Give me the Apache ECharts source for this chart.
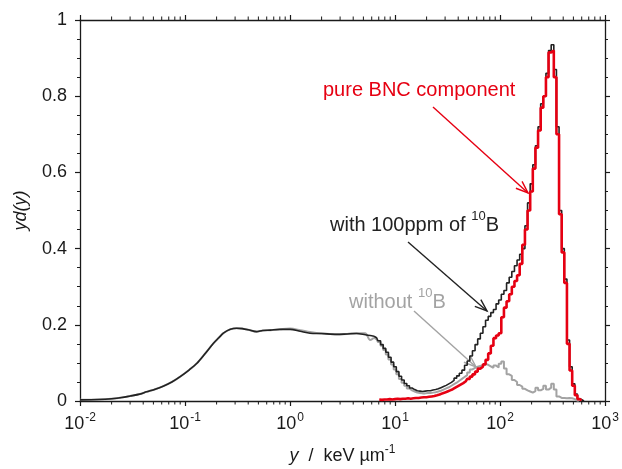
<!DOCTYPE html>
<html>
<head>
<meta charset="utf-8">
<script src="https://cdn.jsdelivr.net/npm/echarts@6/dist/echarts.min.js"></script>
<style>
html, body { margin: 0; padding: 0; background: #fff; }
#main { width: 622px; height: 469px; }
</style>
</head>
<body>
<div id="main"></div>
<script>
// smooth low-y part of the spectra (fine bins, no visible steps)
const lowX = [0.01, 0.015, 0.02, 0.025, 0.03, 0.037, 0.043, 0.052, 0.062, 0.075, 0.09, 0.11, 0.13, 0.155, 0.186, 0.21, 0.232, 0.27, 0.31, 0.35, 0.4, 0.48, 0.55, 0.65, 0.8, 1.0, 1.25, 1.55, 2.0, 2.78, 3.5, 4.3, 5.2, 5.8, 6.31];
const lowWith = [0.003, 0.004, 0.006, 0.009, 0.013, 0.018, 0.024, 0.031, 0.039, 0.05, 0.064, 0.082, 0.099, 0.124, 0.151, 0.166, 0.178, 0.188, 0.191, 0.19, 0.187, 0.182, 0.185, 0.186, 0.188, 0.188, 0.183, 0.178, 0.177, 0.175, 0.176, 0.177, 0.174, 0.172, 0.17];
const lowWithout = [0.003, 0.004, 0.006, 0.009, 0.013, 0.018, 0.024, 0.031, 0.039, 0.05, 0.064, 0.082, 0.099, 0.124, 0.151, 0.166, 0.178, 0.188, 0.191, 0.19, 0.187, 0.182, 0.185, 0.186, 0.188, 0.19, 0.186, 0.181, 0.177, 0.175, 0.176, 0.178, 0.178, 0.16, 0.166];

// histogram bins (keV/um) above ~6, 40 per decade
const binX = [6.31, 6.68, 7.08, 7.5, 7.94, 8.41, 8.91, 9.44, 10, 10.59, 11.22, 11.89, 12.59, 13.34, 14.13, 14.96, 15.85, 16.79, 17.78, 18.84,
	19.95, 21.13, 22.39, 23.71, 25.12, 26.61, 28.18, 29.85, 31.62, 33.5, 35.48, 37.58, 39.81, 42.17, 44.67, 47.32, 50.12, 53.09, 56.23, 59.57,
	63.1, 66.83, 70.79, 74.99, 79.43, 84.14, 89.13, 94.41, 100, 105.9, 112.2, 118.9, 125.9, 133.4, 141.3, 149.6, 158.5, 167.9, 177.8, 188.4,
	199.5, 211.3, 223.9, 237.1, 251.2, 266.1, 281.8, 298.5, 316.2, 335, 354.8, 375.8, 398.1, 421.7, 446.7, 473.2, 501.2, 530.9, 562.3, 595.7, 631];
const withB = [0.17, 0.166, 0.158, 0.148, 0.138, 0.128, 0.115, 0.102, 0.09, 0.077, 0.065, 0.055, 0.046, 0.04, 0.034, 0.03, 0.027, 0.026, 0.025, 0.026,
	0.027, 0.027, 0.029, 0.03, 0.032, 0.035, 0.038, 0.041, 0.045, 0.049, 0.054, 0.06, 0.066, 0.073, 0.081, 0.094, 0.105, 0.118, 0.132, 0.148,
	0.163, 0.178, 0.195, 0.212, 0.222, 0.232, 0.24, 0.255, 0.265, 0.28, 0.29, 0.31, 0.325, 0.34, 0.355, 0.37, 0.385, 0.4, 0.46, 0.52,
	0.57, 0.62, 0.67, 0.72, 0.78, 0.8, 0.86, 0.92, 0.935, 0.87, 0.72, 0.5, 0.4, 0.32, 0.16, 0.09, 0.045, 0.018, 0.006, 0.002, 0];
const withoutB = [0.166, 0.162, 0.155, 0.145, 0.134, 0.122, 0.109, 0.096, 0.083, 0.07, 0.058, 0.048, 0.04, 0.033, 0.028, 0.025, 0.022, 0.021, 0.02, 0.02,
	0.021, 0.021, 0.022, 0.023, 0.025, 0.027, 0.03, 0.033, 0.036, 0.04, 0.044, 0.048, 0.053, 0.058, 0.063, 0.068, 0.075, 0.083, 0.087, 0.09,
	0.092, 0.094, 0.097, 0.095, 0.091, 0.087, 0.093, 0.088, 0.098, 0.104, 0.085, 0.07, 0.066, 0.055, 0.05, 0.042, 0.038, 0.032, 0.028, 0.025,
	0.022, 0.026, 0.035, 0.028, 0.032, 0.04, 0.03, 0.035, 0.045, 0.03, 0.012, 0.008, 0.008, 0.007, 0.008, 0.007, 0.005, 0.001, 0, null, null];
const pureBNC = [null, null, 0.004, 0.003, 0.004, 0.004, 0.005, 0.004, 0.005, 0.006, 0.005, 0.006, 0.006, 0.007, 0.006, 0.007, 0.008, 0.008, 0.009, 0.01,
	0.01, 0.011, 0.012, 0.013, 0.015, 0.017, 0.02, 0.022, 0.025, 0.028, 0.031, 0.035, 0.039, 0.043, 0.047, 0.052, 0.058, 0.064, 0.07, 0.077,
	0.085, 0.09, 0.096, 0.108, 0.125, 0.145, 0.165, 0.172, 0.178, 0.22, 0.245, 0.262, 0.28, 0.3, 0.315, 0.33, 0.36, 0.41, 0.45, 0.5,
	0.55, 0.61, 0.665, 0.71, 0.77, 0.8, 0.85, 0.915, 0.92, 0.85, 0.7, 0.49, 0.39, 0.31, 0.15, 0.08, 0.04, 0.015, 0.005, 0.001, null];

// minor tick positions of the log axis
const minorX = [0.02, 0.03, 0.04, 0.05, 0.06, 0.07, 0.08, 0.09, 0.2, 0.3, 0.4, 0.5, 0.6, 0.7, 0.8, 0.9,
	2, 3, 4, 5, 6, 7, 8, 9, 20, 30, 40, 50, 60, 70, 80, 90, 200, 300, 400, 500, 600, 700, 800, 900];

const FONT = '"Liberation Sans", Arial, sans-serif';
const AX = '#1a1a1a';
const RED = '#e60012';
const GREY = '#a3a3a3';

function pairs(xs, ys) {
	return xs.map((x, i) => [x, ys[i]]).filter(p => p[1] != null);
}

// open "V" arrow from (x1,y1) to tip (x2,y2), pixel coords
function arrow(x1, y1, x2, y2, color, w) {
	const a = Math.atan2(y2 - y1, x2 - x1);
	const L = 13, h = 0.36;
	return [
		{ type: 'line', silent: true, shape: { x1, y1, x2, y2 }, style: { stroke: color, lineWidth: w } },
		{
			type: 'polyline', silent: true,
			shape: { points: [
				[x2 - L * Math.cos(a - h), y2 - L * Math.sin(a - h)],
				[x2, y2],
				[x2 - L * Math.cos(a + h), y2 - L * Math.sin(a + h)]
			] },
			style: { stroke: color, lineWidth: w, fill: null }
		}
	];
}

const axisLine = { show: true, onZero: false, lineStyle: { color: AX, width: 1.3 } };
const tick = { show: true, inside: false, length: 5, lineStyle: { color: AX, width: 1.2 } };

function xAxis(pos, labels) {
	return {
		type: 'log', logBase: 10, min: 0.01, max: 1000, position: pos,
		axisLine, axisTick: tick,
		minorTick: { show: false },
		splitLine: { show: false },
		axisLabel: labels ? {
			show: true, margin: 11, color: AX, fontFamily: FONT, fontSize: 18, lineHeight: 24,
			formatter: v => '10{s|' + Math.round(Math.log10(v)) + '}',
			rich: { s: { fontSize: 12, fontFamily: FONT, color: AX, verticalAlign: 'top', padding: [0, 0, 0, 1] } }
		} : { show: false },
		name: labels ? '{i|y}  /  keV µm{s|-1}' : '',
		nameLocation: 'middle', nameGap: 43,
		nameTextStyle: {
			color: AX, fontFamily: FONT, fontSize: 18, lineHeight: 24,
			rich: {
				i: { fontStyle: 'italic', fontSize: 18, fontFamily: FONT, color: AX },
				s: { fontSize: 12, fontFamily: FONT, color: AX, verticalAlign: 'top' }
			}
		}
	};
}

function yAxis(pos, labels) {
	return {
		type: 'value', min: 0, max: 1, interval: 0.2, position: pos,
		axisLine, axisTick: tick,
		minorTick: { show: true, splitNumber: 4, length: 3, lineStyle: { color: AX, width: 1 } },
		splitLine: { show: false },
		axisLabel: labels ? { show: true, margin: 13, color: AX, fontFamily: FONT, fontSize: 18 } : { show: false },
		name: labels ? 'yd(y)' : '',
		nameLocation: 'middle', nameGap: 50,
		nameTextStyle: { color: AX, fontFamily: FONT, fontSize: 18, fontStyle: 'italic' }
	};
}

const chart = echarts.init(document.getElementById('main'));
chart.setOption({
	animation: false,
	backgroundColor: '#fff',
	grid: { left: 80, right: 17, top: 20, bottom: 68, containLabel: false, outerBoundsMode: 'none' },
	xAxis: [xAxis('bottom', true), xAxis('top', false)],
	yAxis: [yAxis('left', true), yAxis('right', false)],
	series: [
		{ type: 'line', name: 'without', data: pairs(lowX, lowWithout), smooth: 0.3, showSymbol: false, lineStyle: { color: GREY, width: 2 } },
		{ type: 'line', name: 'without', data: pairs(binX, withoutB), step: 'middle', showSymbol: false, lineStyle: { color: GREY, width: 2 } },
		{ type: 'line', name: 'with', data: pairs(lowX, lowWith), smooth: 0.3, showSymbol: false, lineStyle: { color: '#222', width: 1.6 } },
		{ type: 'line', name: 'with', data: pairs(binX, withB), step: 'middle', showSymbol: false, lineStyle: { color: '#222', width: 1.6 } },
		{ type: 'line', name: 'pure', data: pairs(binX, pureBNC), step: 'middle', showSymbol: false, lineStyle: { color: RED, width: 2.6 } },
		{
			// log-axis minor ticks, bottom and top
			type: 'custom', silent: true, clip: false, z: 5,
			data: minorX.map(x => [x, 0]),
			renderItem: (params, api) => {
				const b = api.coord([api.value(0), 0]);
				const t = api.coord([api.value(0), 1]);
				const st = { stroke: AX, lineWidth: 1 };
				return { type: 'group', children: [
					{ type: 'line', shape: { x1: b[0], y1: b[1], x2: b[0], y2: b[1] + 3.5 }, style: st },
					{ type: 'line', shape: { x1: t[0], y1: t[1], x2: t[0], y2: t[1] - 3.5 }, style: st }
				] };
			}
		}
	],
	graphic: [
		{ type: 'text', left: 323, top: 80, style: { text: 'pure BNC component', fill: RED, font: '20px ' + FONT } },
		{ type: 'text', left: 330, top: 210, style: {
			text: 'with 100ppm of {s|10}B', fill: '#222', font: '20px ' + FONT, lineHeight: 30,
			rich: { s: { fontSize: 13, fontFamily: FONT, fill: '#222', verticalAlign: 'top' } } } },
		{ type: 'text', left: 349, top: 287, style: {
			text: 'without {s|10}B', fill: GREY, font: '20px ' + FONT, lineHeight: 30,
			rich: { s: { fontSize: 13, fontFamily: FONT, fill: GREY, verticalAlign: 'top' } } } }
	].concat(
		arrow(433, 107, 528, 193, RED, 1.4),
		arrow(408, 242, 487, 311, '#222', 1.4),
		arrow(414, 311, 476, 367, GREY, 1.4)
	)
});
</script>
</body>
</html>
